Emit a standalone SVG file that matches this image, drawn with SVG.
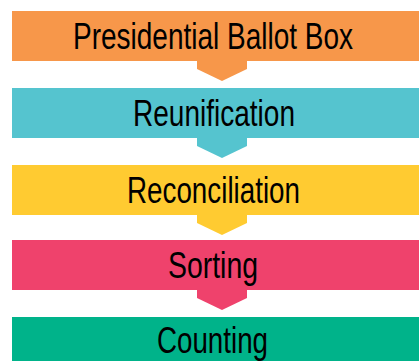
<svg xmlns="http://www.w3.org/2000/svg" width="419" height="361" viewBox="0 0 419 361">
<style>
.lbl{font-family:"Liberation Sans",Arial,sans-serif;font-size:36px;fill:#000;text-anchor:middle}
.o{fill:#F7974A}.t{fill:#55C4CF}.y{fill:#FFCB31}.p{fill:#EF426C}.g{fill:#00B38A}
</style>
<defs>
<polygon id="arr" points="197,0 197,9 222,21 247,9 247,0"/>
</defs>
<g id="connectors">
<use href="#arr" class="o" y="60"/>
<use href="#arr" class="t" y="137"/>
<use href="#arr" class="y" y="214"/>
<use href="#arr" class="p" y="289"/>
</g>
<g id="node1">
<rect class="o" x="12" y="11" width="407" height="50"/>
<text class="lbl" x="213" y="49" textLength="280" lengthAdjust="spacingAndGlyphs">Presidential Ballot Box</text>
</g>
<g id="node2">
<rect class="t" x="12" y="88" width="407" height="50"/>
<text class="lbl" x="214" y="126" textLength="162" lengthAdjust="spacingAndGlyphs">Reunification</text>
</g>
<g id="node3">
<rect class="y" x="12" y="165" width="407" height="50"/>
<text class="lbl" x="213.5" y="203" textLength="173" lengthAdjust="spacingAndGlyphs">Reconciliation</text>
</g>
<g id="node4">
<rect class="p" x="12" y="240" width="407" height="50"/>
<text class="lbl" x="213" y="278" textLength="90" lengthAdjust="spacingAndGlyphs">Sorting</text>
</g>
<g id="node5">
<rect class="g" x="12" y="317" width="407" height="50"/>
<text class="lbl" x="212.5" y="353" textLength="111" lengthAdjust="spacingAndGlyphs">Counting</text>
</g>
</svg>
